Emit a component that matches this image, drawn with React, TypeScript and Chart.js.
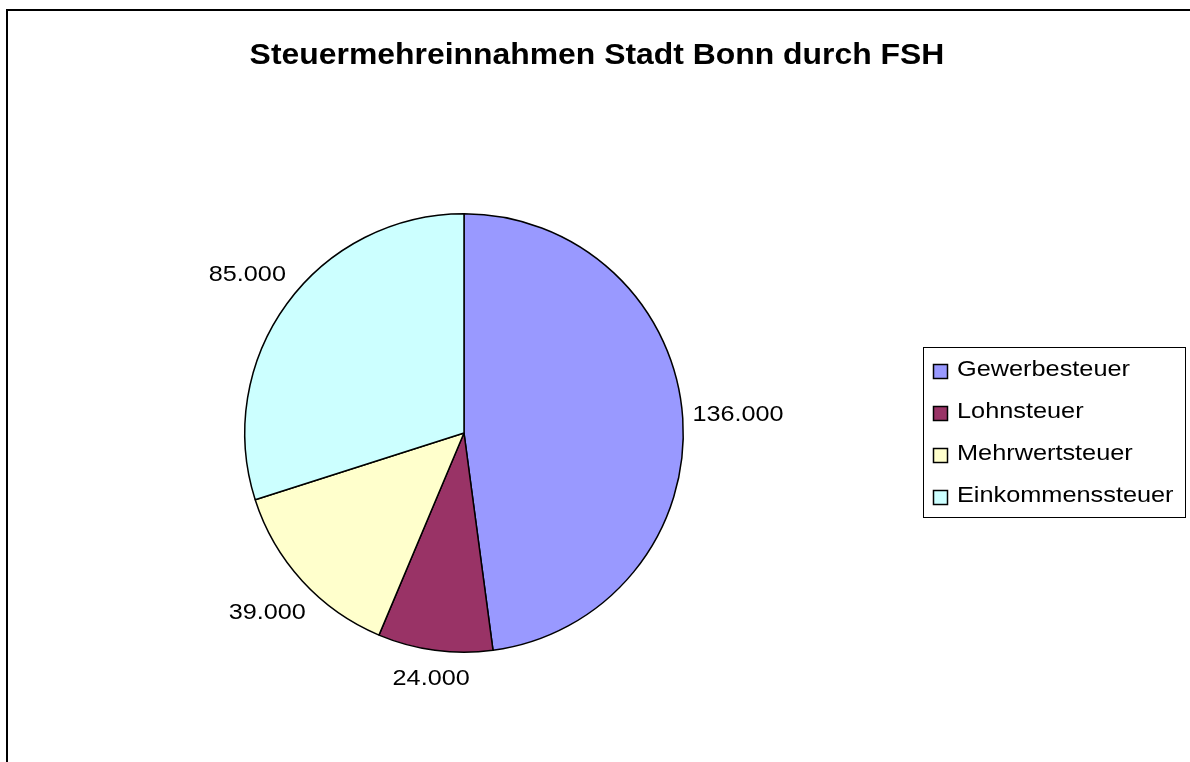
import React, { useEffect, useRef } from "react";
import { Chart, registerables } from "chart.js";

Chart.register(...registerables);

const TITLE = "Steuermehreinnahmen Stadt Bonn durch FSH";
const categories = ["Gewerbesteuer", "Lohnsteuer", "Mehrwertsteuer", "Einkommenssteuer"];
const values = [136000, 24000, 39000, 85000];
const colors = ["#9999FF", "#993366", "#FFFFCC", "#CCFFFF"];

const FONT = "'Liberation Sans', Arial, Helvetica, sans-serif";
const SX = 1.12; // horizontal text stretch of the original rendering

function fmt(v: number): string {
  return String(v).replace(/\B(?=(\d{3})+(?!\d))/g, ".");
}

function stretchedText(ctx: CanvasRenderingContext2D, text: string, x: number, y: number, sx: number) {
  ctx.save();
  ctx.translate(x, y);
  ctx.scale(sx, 1);
  ctx.fillText(text, 0, 0);
  ctx.restore();
}

const decor = {
  id: "decor",
  beforeDraw(chart: any) {
    const ctx = chart.ctx;
    ctx.save();
    ctx.fillStyle = "#ffffff";
    ctx.fillRect(0, 0, chart.width, chart.height);
    ctx.strokeStyle = "#000000";
    ctx.lineWidth = 2;
    ctx.beginPath();
    ctx.moveTo(7, chart.height);
    ctx.lineTo(7, 10);
    ctx.lineTo(chart.width, 10);
    ctx.stroke();
    ctx.fillStyle = "#000000";
    ctx.font = `bold 29px ${FONT}`;
    ctx.textAlign = "center";
    ctx.textBaseline = "middle";
    stretchedText(ctx, TITLE, 597, 56, 1.1);
    ctx.restore();
  },
  afterDraw(chart: any) {
    const ctx = chart.ctx;
    const meta = chart.getDatasetMeta(0);
    ctx.save();
    ctx.fillStyle = "#000000";
    ctx.font = `22.5px ${FONT}`;
    ctx.textAlign = "center";
    ctx.textBaseline = "middle";
    meta.data.forEach((arc: any, i: number) => {
      const p = arc.getProps(["x", "y", "startAngle", "endAngle", "outerRadius"], true);
      const mid = (p.startAngle + p.endAngle) / 2;
      const c = Math.cos(mid);
      const s = Math.sin(mid);
      const text = fmt(values[i]);
      const w = ctx.measureText(text).width * SX;
      const off = p.outerRadius + 9 + (w / 2) * Math.abs(c) + 15 * Math.abs(s);
      stretchedText(ctx, text, p.x + c * off, p.y + s * off, SX);
    });

    // legend
    const left = chart.chartArea.right - 1;
    const top = 347;
    ctx.strokeStyle = "#000000";
    ctx.lineWidth = 1;
    ctx.strokeRect(left + 0.5, top + 0.5, 262, 170);
    ctx.font = `22px ${FONT}`;
    ctx.textAlign = "left";
    categories.forEach((name, i) => {
      const cy = top + 22 + i * 42;
      ctx.fillStyle = colors[i];
      ctx.fillRect(left + 10.5, cy - 4.5, 14, 14);
      ctx.strokeStyle = "#000000";
      ctx.lineWidth = 1.5;
      ctx.strokeRect(left + 10.5, cy - 4.5, 14, 14);
      ctx.fillStyle = "#000000";
      stretchedText(ctx, name, left + 34, cy + 1, 1.15);
    });
    ctx.restore();
  },
};

export default function App() {
  const ref = useRef<HTMLCanvasElement | null>(null);
  useEffect(() => {
    if (!ref.current) return;
    const chart = new Chart(ref.current, {
      type: "pie",
      data: {
        labels: categories,
        datasets: [
          {
            data: values,
            backgroundColor: colors,
            borderColor: "#000000",
            borderWidth: 1.5,
          },
        ],
      },
      options: {
        responsive: false,
        animation: false,
        devicePixelRatio: 1,
        layout: { padding: { left: 4, right: 266, top: 213, bottom: 109 } },
        plugins: {
          legend: { display: false },
          title: { display: false },
          tooltip: { enabled: false },
        },
      },
      plugins: [decor],
    });
    return () => chart.destroy();
  }, []);
  return (
    <div style={{ position: "fixed", left: 0, top: 0, width: 1190, height: 762 }}>
      <canvas ref={ref} width={1190} height={762} style={{ width: 1190, height: 762, display: "block" }} />
    </div>
  );
}
